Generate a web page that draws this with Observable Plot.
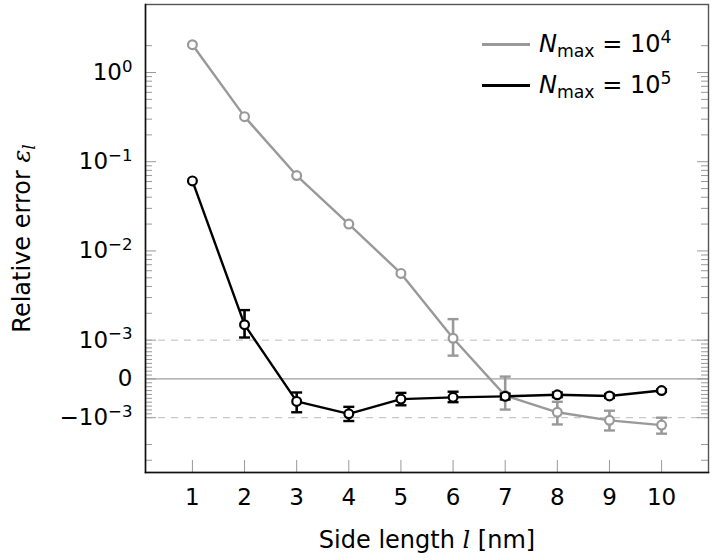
<!DOCTYPE html>
<html>
<head>
<meta charset="utf-8">
<script src="https://cdn.jsdelivr.net/npm/d3@7"></script>
<script src="https://cdn.jsdelivr.net/npm/@observablehq/plot@0.6"></script>
<style>
  body { margin: 0; background: #fff; }
  #wrap { position: relative; width: 714px; height: 560px; font-family: "DejaVu Sans", sans-serif; }
  #wrap svg { display: block; }
  .legend { position: absolute; left: 482px; top: 0; font-size: 24px; color: #000; }
  .row { position: absolute; left: 0; display: flex; align-items: center; white-space: nowrap; }
  .sw { width: 48px; height: 3px; margin-right: 9px; }
  .row sub { font-size: 0.72em; vertical-align: -0.3em; line-height: 0; }
  .row sup { font-size: 0.72em; vertical-align: 0.55em; line-height: 0; }
</style>
</head>
<body>
<div id="wrap"></div>
<script>
// ---- data ----
const sideLength = [1, 2, 3, 4, 5, 6, 7, 8, 9, 10];
// N_max = 10^4 (gray)
const err1e4     = [2.05, 0.32, 0.070, 0.020, 0.0056, 1.05e-3, -0.43e-3, -0.86e-3, -1.07e-3, -1.21e-3];
const err1e4Low  = [null, null, null, null, null, 0.60e-3, -0.79e-3, -1.19e-3, -1.39e-3, -1.51e-3];
const err1e4High = [null, null, null, null, null, 1.72e-3, 0.06e-3, -0.59e-3, -0.82e-3, -1.00e-3];
// N_max = 10^5 (black)
const err1e5     = [0.061, 1.49e-3, -0.58e-3, -0.90e-3, -0.52e-3, -0.475e-3, -0.45e-3, -0.41e-3, -0.44e-3, -0.30e-3];
const err1e5Low  = [null, 1.07e-3, -0.86e-3, -1.09e-3, -0.68e-3, -0.60e-3, -0.53e-3, -0.47e-3, -0.49e-3, -0.33e-3];
const err1e5High = [null, 2.17e-3, -0.35e-3, -0.72e-3, -0.36e-3, -0.33e-3, -0.38e-3, -0.35e-3, -0.39e-3, -0.27e-3];

const seriesNames = ["N_max = 10^4", "N_max = 10^5"];
const seriesColors = ["#999999", "#000000"];

// ticks
const xTicks = [1, 2, 3, 4, 5, 6, 7, 8, 9, 10];
const yMajorTicks = [1, 0.1, 0.01, 0.001, 0, -0.001];
const yMajorBase  = ["10", "10", "10", "10", "0", "\u221210"];
const yMajorExp   = ["0", "\u22121", "\u22122", "\u22123", "", "\u22123"];
const yMinorTicks = [
  2,
  0.9, 0.8, 0.7, 0.6, 0.5, 0.4, 0.3, 0.2,
  0.09, 0.08, 0.07, 0.06, 0.05, 0.04, 0.03, 0.02,
  0.009, 0.008, 0.007, 0.006, 0.005, 0.004, 0.003, 0.002,
  0.0009, 0.0008, 0.0007, 0.0006, 0.0005, 0.0004, 0.0003, 0.0002, 0.0001,
  -0.0001, -0.0002, -0.0003, -0.0004, -0.0005, -0.0006, -0.0007, -0.0008, -0.0009,
  -0.002, -0.003
];
const refLinesDashed = [0.001, -0.001];
const refLineZero = [0];

// ---- scale transform: linear in [-1e-3, 1e-3], log10 outside ----
const LIN = 1e-3, DECADE = 2.3;
const symT = v => Math.abs(v) <= LIN ? v / LIN : Math.sign(v) * (1 + DECADE * Math.log10(Math.abs(v) / LIN));

// ---- layout ----
const W = 714, H = 560, ML = 145, MR = 6, MT = 4, MB = 88;
const FW = W - ML - MR, FH = H - MT - MB;

// ---- tables ----
const rows = [];
[[err1e4, err1e4Low, err1e4High], [err1e5, err1e5Low, err1e5High]].forEach(([v, lo, hi], s) => {
  sideLength.forEach((l, i) => rows.push({series: seriesNames[s], color: seriesColors[s], l, v: v[i], lo: lo[i], hi: hi[i]}));
});
const barRows = rows.filter(d => d.lo != null);

const hLine = {draw(ctx, size) { const r = Math.sqrt(size / Math.PI); ctx.moveTo(-r, 0); ctx.lineTo(r, 0); }};

const seriesMarks = (name) => {
  const d = rows.filter(r => r.series === name);
  const b = barRows.filter(r => r.series === name);
  const c = d[0].color;
  return [
    Plot.line(d, {x: "l", y: "v", stroke: c, strokeWidth: 2.4}),
    Plot.ruleX(b, {x: "l", y1: "lo", y2: "hi", stroke: c, strokeWidth: 2.6}),
    Plot.dot(b, {x: "l", y: "lo", symbol: hLine, r: 5.5, stroke: c, strokeWidth: 2.4, fill: "none"}),
    Plot.dot(b, {x: "l", y: "hi", symbol: hLine, r: 5.5, stroke: c, strokeWidth: 2.4, fill: "none"}),
    Plot.dot(d, {x: "l", y: "v", r: 4.4, stroke: c, strokeWidth: 2.2, fill: "white"})
  ];
};

const yLabelRows = yMajorTicks.map((v, i) => ({v, label: yMajorBase[i] + (yMajorExp[i] ? "^" + yMajorExp[i] : "")}));
const tickStyle = {stroke: "#999999", strokeWidth: 1};

const chart = Plot.plot({
  width: W,
  height: H,
  marginLeft: ML,
  marginRight: MR,
  marginTop: MT,
  marginBottom: MB,
  style: {fontFamily: "DejaVu Sans, sans-serif", background: "white", overflow: "visible"},
  x: {domain: [0.1, 10.9], axis: null},
  y: {type: "linear", transform: symT, domain: [-2.413, 9.654], axis: null},
  marks: [
    Plot.ruleY(refLinesDashed, {y: d => d, stroke: "#bbbbbb", strokeWidth: 1, strokeDasharray: "7,6"}),
    Plot.ruleY(refLineZero, {y: d => d, stroke: "#888888", strokeWidth: 1}),
    // inward ticks (left, right, bottom)
    Plot.ruleY(yMajorTicks, {y: d => d, insetRight: FW - 11, ...tickStyle}),
    Plot.ruleY(yMinorTicks, {y: d => d, insetRight: FW - 7, ...tickStyle}),
    Plot.ruleY(yMajorTicks, {y: d => d, insetLeft: FW - 11, ...tickStyle}),
    Plot.ruleY(yMinorTicks, {y: d => d, insetLeft: FW - 7, ...tickStyle}),
    Plot.ruleX(xTicks, {x: d => d, insetTop: FH - 12, ...tickStyle}),
    ...seriesMarks(seriesNames[0]),
    ...seriesMarks(seriesNames[1]),
    Plot.frame({stroke: "#555555", strokeWidth: 1.4}),
    Plot.frame({anchor: "left", stroke: "#111111", strokeWidth: 1.5}),
    Plot.frame({anchor: "bottom", stroke: "#111111", strokeWidth: 1.5}),
    // tick labels
    Plot.text(yLabelRows, {y: "v", text: "label", frameAnchor: "left", dx: -13, textAnchor: "end", lineAnchor: "middle", fontSize: 23, fill: "black"}),
    Plot.text(xTicks, {x: d => d, text: d => String(d), frameAnchor: "bottom", dy: 25, lineAnchor: "middle", textAnchor: "middle", fontSize: 23, fill: "black"}),
    // axis titles
    Plot.text(["Side length l [nm]"], {text: d => d, frameAnchor: "bottom", dy: 68, lineAnchor: "middle", textAnchor: "middle", fontSize: 24, fill: "black"}),
    Plot.text(["Relative error \u03b5_l"], {text: d => d, frameAnchor: "left", dx: -123, rotate: -90, textAnchor: "middle", lineAnchor: "middle", fontSize: 24, fill: "black"})
  ]
});

// rich text post-processing
d3.select(chart).selectAll("text").each(function () {
  const s = this.textContent;
  const t = d3.select(this);
  if (s.includes("^")) {
    const [b, e] = s.split("^");
    t.text(null);
    t.append("tspan").text(b);
    t.append("tspan").attr("dy", "-0.5em").attr("font-size", "0.72em").text(e);
  } else if (s === "Side length l [nm]") {
    t.attr("text-anchor", "middle").text(null);
    t.append("tspan").text("Side length ");
    t.append("tspan").attr("font-style", "italic").attr("font-family", "DejaVu Serif").text("l");
    t.append("tspan").text(" [nm]");
  } else if (s.startsWith("Relative error")) {
    t.attr("text-anchor", "middle").text(null);
    t.append("tspan").text("Relative error ");
    t.append("tspan").attr("font-style", "italic").attr("font-family", "DejaVu Serif").text("\u03b5");
    t.append("tspan").attr("font-style", "italic").attr("font-family", "DejaVu Serif").attr("font-size", "0.7em").attr("dy", "0.3em").text("l");
  }
});

const wrap = document.getElementById("wrap");
wrap.appendChild(chart);

// legend (inside plot area, top right)
const legend = document.createElement("div");
legend.className = "legend";
const legendTops = [44, 85];
seriesNames.forEach((name, i) => {
  const [lhs, rhs] = name.split(" = ");
  const [sym, sub] = lhs.split("_");
  const [base, exp] = rhs.split("^");
  const row = document.createElement("div");
  row.className = "row";
  row.style.top = (legendTops[i] - 15) + "px";
  row.style.height = "30px";
  row.innerHTML = `<span class="sw" style="background:${seriesColors[i]}"></span><span><i>${sym}</i><sub>${sub}</sub> = ${base}<sup>${exp}</sup></span>`;
  legend.appendChild(row);
});
wrap.appendChild(legend);
</script>
</body>
</html>
